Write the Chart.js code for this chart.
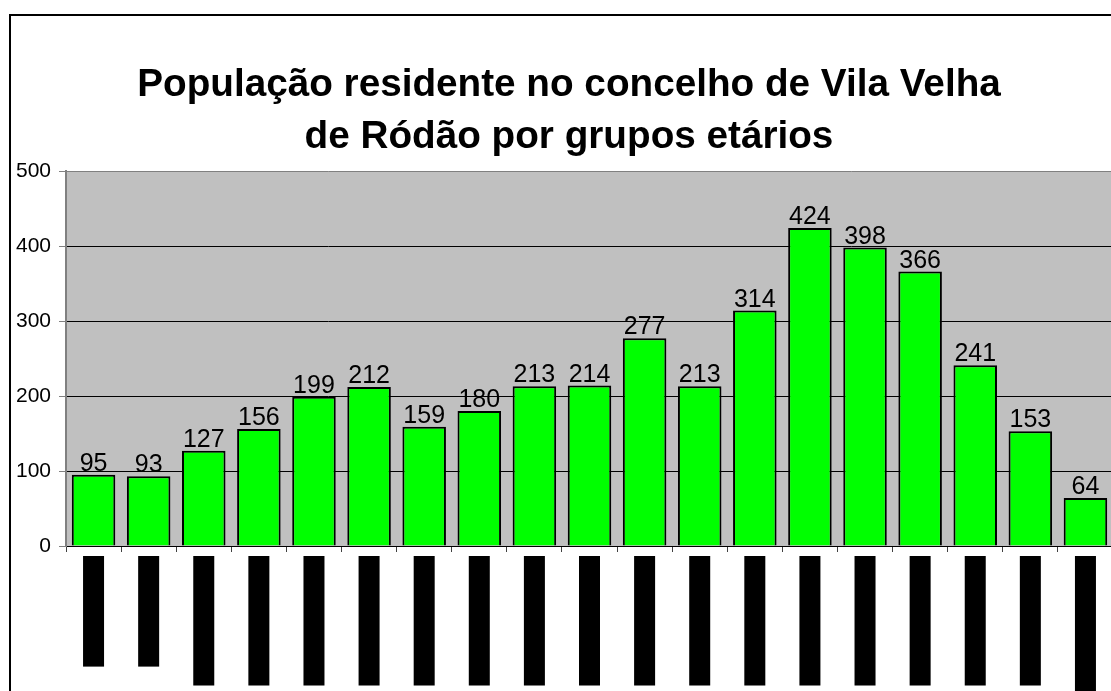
<!DOCTYPE html>
<html>
<head>
<meta charset="utf-8">
<script src="https://cdn.jsdelivr.net/npm/chart.js@4.4.0/dist/chart.umd.min.js"></script>
<style>
    html, body { margin: 0; padding: 0; background: #fff; overflow: hidden; width: 1111px; height: 691px; }
    #frame { position: absolute; left: 9px; top: 14px; width: 1116px; height: 730px; border: 2px solid #000; }
    canvas { display: block; }
</style>
</head>
<body>
<div id="frame"><canvas id="chart" width="1116" height="730"></canvas></div>
<script>
const titleLines = ['População residente no concelho de Vila Velha', 'de Ródão por grupos etários'];

const ageGroups = [
    '0 - 4 anos', '5 - 9 anos', '10 - 14 anos', '15 - 19 anos', '20 - 24 anos',
    '25 - 29 anos', '30 - 34 anos', '35 - 39 anos', '40 - 44 anos', '45 - 49 anos',
    '50 - 54 anos', '55 - 59 anos', '60 - 64 anos', '65 - 69 anos', '70 - 74 anos',
    '75 - 79 anos', '80 - 84 anos', '85 - 89 anos', '90 e mais anos'
];

const population = [95, 93, 127, 156, 199, 212, 159, 180, 213, 214, 277, 213, 314, 424, 398, 366, 241, 153, 64];

const yMin = 0;
const yMax = 500;
const yStep = 100;

const FONT = '"Liberation Sans", Arial, sans-serif';

// grey plot background
const plotBackground = {
    id: 'plotBackground',
    beforeDraw(chart) {
        const { ctx, chartArea } = chart;
        ctx.save();
        ctx.fillStyle = '#c0c0c0';
        ctx.fillRect(chartArea.left, chartArea.top, chartArea.right - chartArea.left, chartArea.bottom - chartArea.top);
        ctx.restore();
    }
};

// value above every bar
const valueLabels = {
    id: 'valueLabels',
    afterDatasetsDraw(chart) {
        const ctx = chart.ctx;
        const meta = chart.getDatasetMeta(0);
        ctx.save();
        ctx.font = '25px ' + FONT;
        ctx.fillStyle = '#000';
        ctx.textAlign = 'center';
        ctx.textBaseline = 'alphabetic';
        meta.data.forEach((bar, i) => {
            ctx.fillText(String(population[i]), bar.x, bar.y - 4);
        });
        ctx.restore();
    }
};

new Chart(document.getElementById('chart'), {
    type: 'bar',
    data: {
        labels: ageGroups,
        datasets: [{
            data: population,
            backgroundColor: '#00ff00',
            borderColor: '#000',
            borderWidth: 2,
            barPercentage: 0.79,
            categoryPercentage: 1
        }]
    },
    options: {
        responsive: false,
        animation: false,
        events: [],
        plugins: {
            legend: { display: false },
            tooltip: { enabled: false },
            title: {
                display: true,
                text: titleLines,
                color: '#000',
                font: { family: FONT, size: 38.7, weight: 'bold', lineHeight: '52px' },
                padding: { top: 43, bottom: 8 }
            }
        },
        scales: {
            x: {
                afterFit: s => { s.height = 200; },
                grid: {
                    drawOnChartArea: false,
                    tickLength: 6,
                    tickColor: '#404040'
                },
                border: { color: '#000', width: 1 },
                ticks: {
                    autoSkip: false,
                    minRotation: 90,
                    maxRotation: 90,
                    padding: 8,
                    labelOffset: -8.5,
                    color: '#000',
                    font: { family: FONT, size: 17, lineHeight: 1 },
                    showLabelBackdrop: true,
                    backdropColor: '#000',
                    backdropPadding: { top: 2, bottom: 2, left: 31, right: 4 }
                }
            },
            y: {
                min: yMin,
                max: yMax,
                afterFit: s => { s.width = 55; },
                grid: {
                    color: ctx => (ctx.tick && ctx.tick.value === yMax) ? '#808080' : '#000',
                    tickColor: '#808080',
                    tickLength: 7
                },
                border: { color: '#808080', width: 2 },
                ticks: {
                    stepSize: yStep,
                    padding: 8,
                    color: '#000',
                    font: { family: FONT, size: 21 }
                }
            },
            y2: {
                position: 'right',
                afterFit: s => { s.width = 14; },
                grid: { display: false },
                border: { display: false },
                ticks: { display: false }
            }
        }
    },
    plugins: [plotBackground, valueLabels]
});
</script>
</body>
</html>
